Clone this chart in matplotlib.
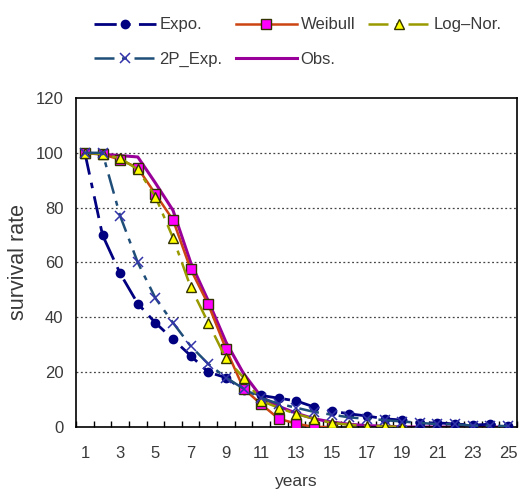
import numpy as np
import matplotlib.pyplot as plt
from matplotlib.ticker import FixedLocator

plt.rcParams['font.family'] = ['Liberation Sans', 'DejaVu Sans']

years = np.arange(1, 26)

expo = [100, 70, 56, 45, 38, 32, 26, 20, 18, 13.5, 11.5, 10.5, 9.5, 7.3, 5.8,
        4.8, 4, 3, 2.5, 1.5, 1.5, 1.1, 0.7, 1, 0.2]
p2_exp = [100, 100, 77, 60, 47, 38, 29.5, 23, 18, 14, 10.5, 8.5, 7, 5.5, 4.5,
          3.5, 3, 2.5, 2, 1.5, 1, 1, 0.5, 0.5, 0.3]
weibull = [100, 99.5, 97.5, 94.5, 85, 75.5, 57.5, 44.7, 28.5, 14, 8.3, 3,
           1.2, 0, 0]
log_nor = [100, 99.5, 98, 94, 84, 69, 51, 38, 25, 18, 9.5, 7, 4.7, 3, 1.5,
           0.8, 0.4, 0.3, 0]
obs = [100, 99.5, 99, 98.5, 89, 79, 60, 46, 31, 19.5, 11, 7.5, 5, 3, 1.8,
       1, 0.5, 0.3, 0, 0, 0, 0, 0, 0, 0]

ytick_vals = [0, 20, 40, 60, 80, 100, 120]
xtick_vals = list(range(1, 26, 2))

fig = plt.figure(figsize=(5.21, 4.98), dpi=100)
ax = fig.add_axes([0.146, 0.1426, 0.846, 0.6606])

txt = '#3a3a3a'

h_obs, = ax.plot(years[:len(obs)], obs, color='#990099', lw=2.2,
                 label='Obs.', zorder=2)
h_expo, = ax.plot(years[:len(expo)], expo, color='#000080', lw=2,
                  dashes=(8, 3, 2, 3), marker='o', ms=6, mfc='#000080',
                  mec='#000080', label='Expo.', zorder=3)
h_weib, = ax.plot(years[:len(weibull)], weibull, color='#CC4411', lw=1.8,
                  marker='s', ms=6.5, mfc='#FF00FF', mec='#333300', mew=1,
                  label='Weibull', zorder=4)
h_logn, = ax.plot(years[:len(log_nor)], log_nor, color='#999900', lw=1.8,
                  dashes=(8, 3, 2, 3), marker='^', ms=7, mfc='#FFFF00',
                  mec='#333300', mew=1, label='Log\u2013Nor.', zorder=5)
h_2p, = ax.plot(years[:len(p2_exp)], p2_exp, color='#1F4E79', lw=1.8,
                dashes=(8, 3, 2, 3), marker='x', ms=6.5, mec='#3333AA', mew=1.1,
                label='2P_Exp.', zorder=6)

ax.set_xlim(0.5, 25.5)
ax.set_ylim(0, 120)

ax.set_yticks(ytick_vals)
ax.set_xticks(xtick_vals)
ax.xaxis.set_minor_locator(FixedLocator(np.arange(0.5, 26, 1)))
ax.tick_params(axis='y', length=0, pad=9, labelsize=12, labelcolor=txt)
ax.tick_params(axis='x', which='major', length=0, pad=14, labelsize=12,
               labelcolor=txt)
ax.tick_params(axis='x', which='minor', direction='in', length=4, width=1)

for y in ytick_vals[1:-1]:
    ax.axhline(y, color='#444444', lw=0.9, ls=(0, (1.5, 2)), zorder=1)

for s in ax.spines.values():
    s.set_linewidth(1.2)
    s.set_color('black')

ax.set_ylabel('survival rate', fontsize=15.5, color=txt, labelpad=5)
ax.set_xlabel('years', fontsize=12.5, color=txt, labelpad=9)

fig.legend([h_expo, h_2p, h_weib, h_obs, h_logn],
           ['Expo.', '2P_Exp.', 'Weibull', 'Obs.', 'Log\u2013Nor.'],
           ncol=3, loc='upper left', bbox_to_anchor=(0.152, 0.995),
           frameon=False, fontsize=12, handlelength=3.7, handletextpad=0.2,
           columnspacing=0.8, labelspacing=1.15, labelcolor=txt)

fig.savefig('out.png', dpi=100)
